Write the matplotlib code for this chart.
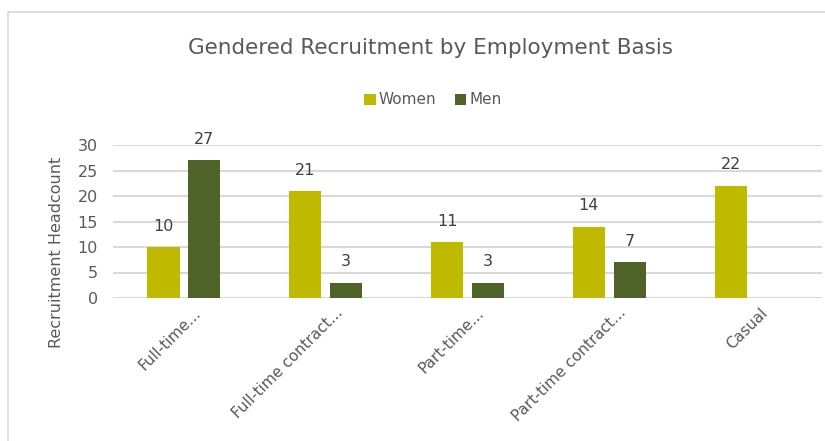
import matplotlib
matplotlib.use("Agg")
import matplotlib.pyplot as plt
import matplotlib.transforms as mtrans
import numpy as np
from matplotlib.patches import Rectangle, Patch

categories = ["Full-time...", "Full-time contract...", "Part-time...", "Part-time contract...", "Casual"]
women = [10, 21, 11, 14, 22]
men = [27, 3, 3, 7, np.nan]
series_names = ["Women", "Men"]
yticks = [0, 5, 10, 15, 20, 25, 30]

c_women = "#BFB900"
c_men = "#4F6228"
txt = "#595959"
grid = "#D9D9D9"
plt.rcParams['font.family'] = ["DejaVu Sans"]

fig = plt.figure(figsize=(8.25, 4.41), dpi=100)
fig.patches.append(Rectangle((8/825, -0.1), 1.0, (441-12)/441 + 0.1, transform=fig.transFigure,
                             fill=False, edgecolor=grid, linewidth=1.2))
ax = fig.add_axes([113/825, 143/441, 709/825, 153/441])

x = np.arange(len(categories))
w = 0.226
off = 0.144
b1 = ax.bar(x - off, women, w, color=c_women, zorder=3)
b2 = ax.bar(x + off, men, w, color=c_men, zorder=3)

for bars, vals in ((b1, women), (b2, men)):
    for r, v in zip(bars, vals):
        if np.isnan(v):
            continue
        ax.annotate(f"{int(v)}", (r.get_x() + r.get_width() / 2, v), xytext=(0, 15),
                    textcoords="offset points", ha="center", va="center",
                    fontsize=11.5, color="#404040")

ax.set_xlim(-0.5, len(categories) - 0.5)
ax.set_ylim(0, 30)
ax.set_yticks(yticks)
ax.yaxis.grid(True, color=grid, linewidth=1.5, zorder=0)
for s in ax.spines.values():
    s.set_visible(False)
ax.tick_params(axis="y", length=0, labelsize=11.5, labelcolor=txt, pad=11)
ax.tick_params(axis="x", length=0, labelsize=11, labelcolor=txt, pad=5)
ax.set_xticks(x)
ax.set_xticklabels(categories, rotation=45, ha="right", rotation_mode="anchor")
shift = mtrans.ScaledTranslation(9/100, 0, fig.dpi_scale_trans)
for lbl in ax.get_xticklabels():
    lbl.set_transform(lbl.get_transform() + shift)

fig.text(57/825, 1 - 252/441, "Recruitment Headcount", rotation=90, ha="center", va="center",
         fontsize=11.5, color=txt)
fig.text(431/825, 1 - 48/441, "Gendered Recruitment by Employment Basis", ha="center", va="center",
         fontsize=15.5, color=txt)
handles = [Patch(facecolor=c_women), Patch(facecolor=c_men)]
fig.legend(handles, series_names, loc="center", bbox_to_anchor=(433/825, 1 - 100/441), ncol=2,
           frameon=False, fontsize=11, handlelength=0.75, handleheight=0.75, handletextpad=0.2,
           columnspacing=1.2, labelcolor=txt)

fig.savefig("out.png", dpi=100)
